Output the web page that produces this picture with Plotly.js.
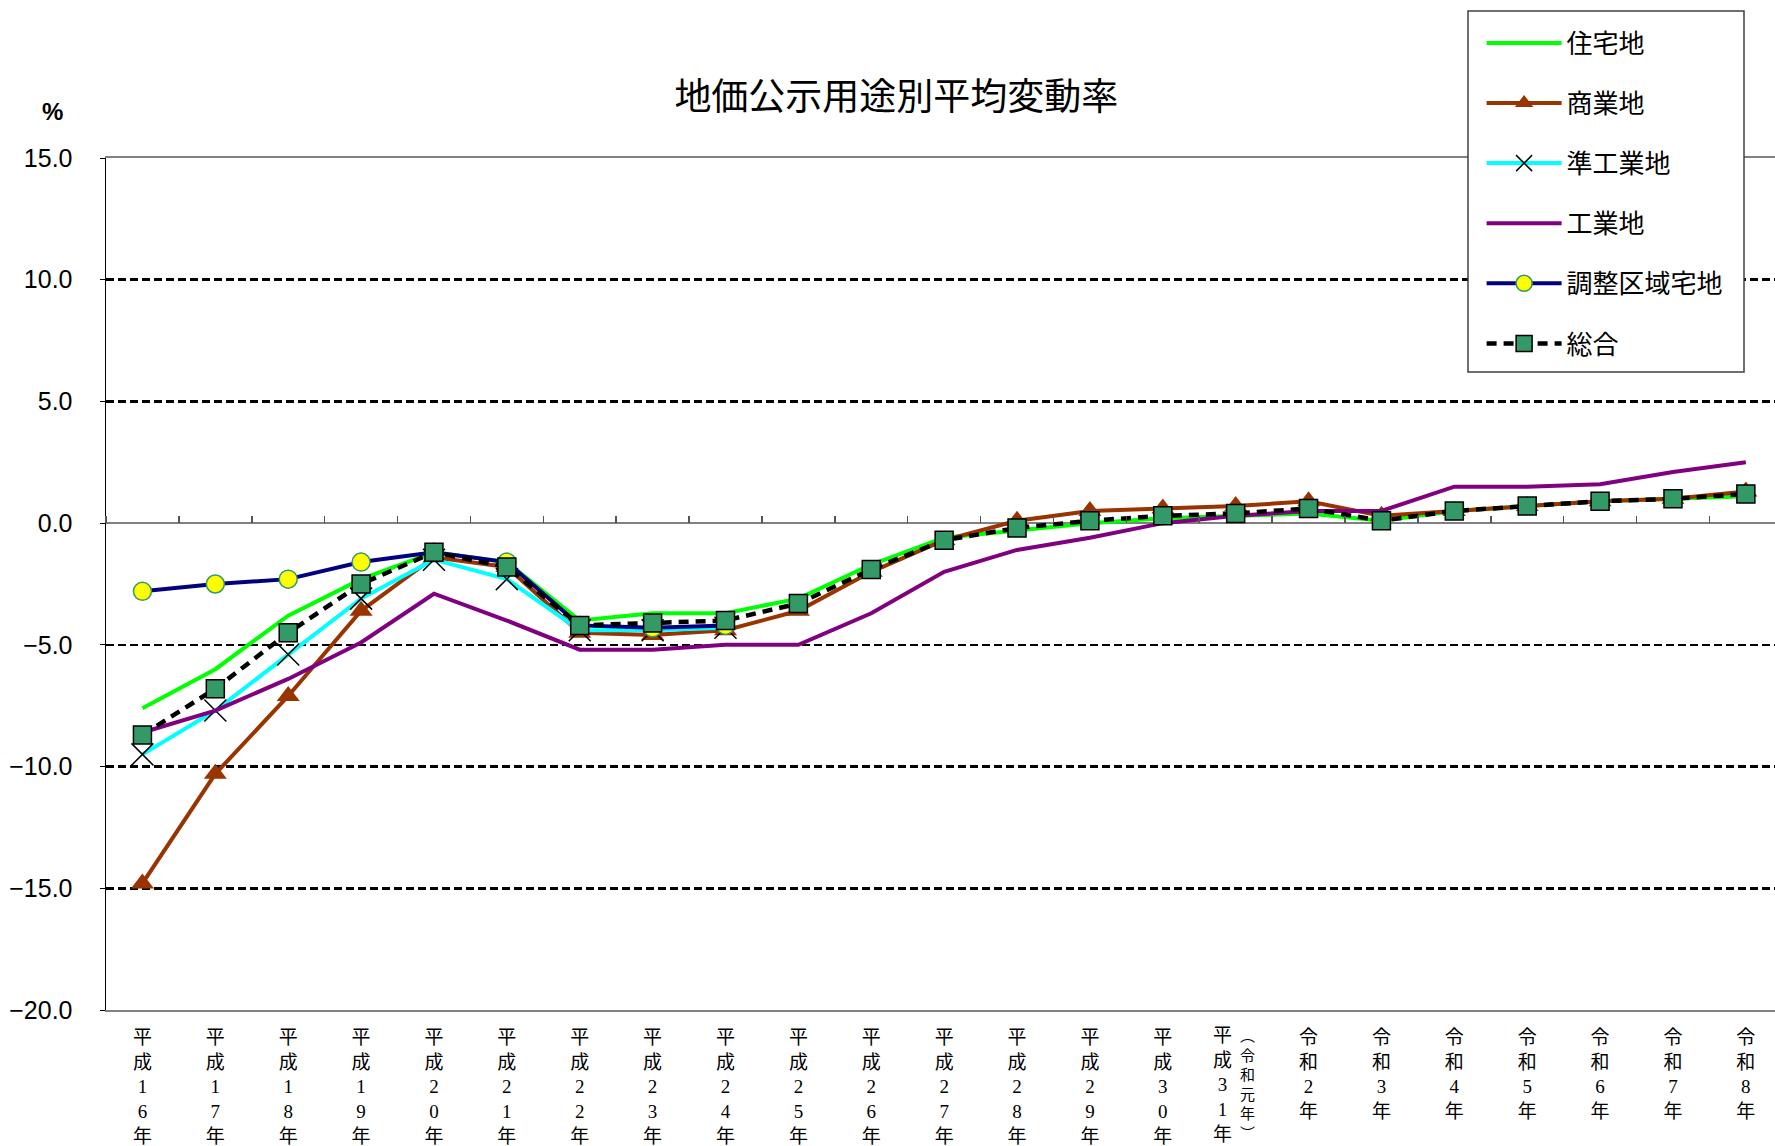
<!DOCTYPE html>
<html>
<head>
<meta charset="utf-8">
<script src="https://cdn.plot.ly/plotly-3.0.1.min.js"></script>
<style>html,body{margin:0;padding:0;background:#fff;}</style>
</head>
<body>
<div id="chart" style="width:1775px;height:1146px;"></div>
<script>
// ---- data ----
const categories = ["H16","H17","H18","H19","H20","H21","H22","H23","H24","H25","H26","H27","H28","H29","H30","H31","R2","R3","R4","R5","R6","R7","R8"];
const tickLabels = [
  "平<br>成<br>1<br>6<br>年","平<br>成<br>1<br>7<br>年","平<br>成<br>1<br>8<br>年","平<br>成<br>1<br>9<br>年",
  "平<br>成<br>2<br>0<br>年","平<br>成<br>2<br>1<br>年","平<br>成<br>2<br>2<br>年","平<br>成<br>2<br>3<br>年",
  "平<br>成<br>2<br>4<br>年","平<br>成<br>2<br>5<br>年","平<br>成<br>2<br>6<br>年","平<br>成<br>2<br>7<br>年",
  "平<br>成<br>2<br>8<br>年","平<br>成<br>2<br>9<br>年","平<br>成<br>3<br>0<br>年",
  "",
  "令<br>和<br>2<br>年","令<br>和<br>3<br>年","令<br>和<br>4<br>年","令<br>和<br>5<br>年",
  "令<br>和<br>6<br>年","令<br>和<br>7<br>年","令<br>和<br>8<br>年"
];
const heisei31Label = "平<br>成<br>3<br>1<br>年";
const reiwaGannenLabel = "︵<br>令<br>和<br>元<br>年<br>︶";
const seriesNames = ["住宅地","商業地","準工業地","工業地","調整区域宅地","総合"];

const residential  = [-7.6,-6.0,-3.8,-2.3,-1.2,-1.6,-4.0,-3.7,-3.7,-3.1,-1.7,-0.6,-0.3,0.0,0.2,0.3,0.4,0.1,0.5,0.7,0.9,1.0,1.1];
const commercial   = [-14.8,-10.3,-7.1,-3.6,-1.4,-1.8,-4.5,-4.6,-4.4,-3.6,-2.0,-0.7,0.1,0.5,0.6,0.7,0.9,0.3,0.5,0.7,0.9,1.0,1.3];
const semiIndustrial = [-9.5,-7.7,-5.4,-3.1,-1.5,-2.3,-4.4,-4.4,-4.3,null,null,null,null,null,null,null,null,null,null,null,null,null,null];
const industrial   = [-8.6,-7.7,-6.4,-4.9,-2.9,-4.0,-5.2,-5.2,-5.0,-5.0,-3.7,-2.0,-1.1,-0.6,0.0,0.3,0.5,0.5,1.5,1.5,1.6,2.1,2.5];
const adjustResidential = [-2.8,-2.5,-2.3,-1.6,-1.2,-1.6,-4.2,-4.3,-4.2,null,null,null,null,null,null,null,null,null,null,null,null,null,null];
const overall      = [-8.7,-6.8,-4.5,-2.5,-1.2,-1.8,-4.2,-4.1,-4.0,-3.3,-1.9,-0.7,-0.2,0.1,0.3,0.4,0.6,0.1,0.5,0.7,0.9,1.0,1.2];
const yTicks = [-20,-15,-10,-5,0,5,10,15];

// ---- traces ----
const traces = [
  {name:seriesNames[0], x:categories, y:residential, mode:"lines", legendgroup:"g0",
   line:{color:"#00FF00", width:4}},
  {name:seriesNames[1], x:categories, y:commercial, mode:"lines+markers", legendgroup:"g1",
   line:{color:"#993300", width:4},
   marker:{symbol:"triangle-up", size:20, color:"#993300", line:{width:0}}},
  {name:seriesNames[2], x:categories, y:semiIndustrial, mode:"lines+markers", legendgroup:"g2",
   line:{color:"#00FFFF", width:4},
   marker:{symbol:"x-thin-open", size:22, color:"#000000", line:{color:"#000000", width:1.5}}},
  {name:seriesNames[3], x:categories, y:industrial, mode:"lines", legendgroup:"g3",
   line:{color:"#800080", width:4}},
  {name:seriesNames[4], x:categories, y:adjustResidential, mode:"lines+markers", legendgroup:"g4",
   line:{color:"#000080", width:4},
   marker:{symbol:"circle", size:18, color:"#FFFF00", line:{color:"#339966", width:1.5}}},
  {name:seriesNames[5], x:categories, y:overall, mode:"lines+markers", legendgroup:"g5",
   line:{color:"#000000", width:4.5, dash:"10px,7px"},
   marker:{symbol:"square", size:18, color:"#339966", line:{color:"#000000", width:1.5}}},
  {x:categories, y:categories.map(()=>null), xaxis:"x2", mode:"lines", showlegend:false, hoverinfo:"skip"}
];

const tickFont = {size:19, family:"Liberation Serif, Noto Sans CJK JP", color:"#000"};

const layout = {
  width:1775, height:1146,
  margin:{l:106, r:0, t:158, b:136, autoexpand:false},
  paper_bgcolor:"#ffffff", plot_bgcolor:"#ffffff",
  font:{family:"Noto Sans CJK JP, sans-serif", color:"#000"},
  title:{text:"地価公示用途別平均変動率", font:{size:37, family:"Noto Sans CJK JP", color:"#000"},
         xref:"container", yref:"container", x:0.505, y:1-97/1146, xanchor:"center", yanchor:"middle"},
  xaxis:{type:"category", range:[-0.5,22.4], tickvals:categories, ticktext:tickLabels,
         ticks:"", showgrid:false, zeroline:false, showline:true, mirror:true,
         linecolor:"#808080", linewidth:2, ticklabelstandoff:9, tickfont:tickFont},
  xaxis2:{type:"category", overlaying:"x", anchor:"free", position:20/35, side:"top",
          range:[-0.5,22.4], ticks:"outside", tickson:"boundaries", ticklen:7, tickwidth:1.5,
          tickcolor:"#555", showticklabels:false, showline:false, showgrid:false, zeroline:false},
  yaxis:{range:[-20,15], tickvals:yTicks, tickformat:".1f", showgrid:true, gridcolor:"#000",
         gridwidth:2.5, griddash:"8px,4px", zeroline:true, zerolinecolor:"#808080", zerolinewidth:1.5,
         showline:true, linecolor:"#000", linewidth:1.5, ticks:"outside", ticklen:5, tickcolor:"#000",
         ticklabelstandoff:22,
         tickfont:{size:25, family:"Liberation Sans, Arial, sans-serif", color:"#000"}},
  legend:{x:(1481.6-106)/1669, y:(1010-19.5)/852, xanchor:"left", yanchor:"top",
          bgcolor:"rgba(0,0,0,0)", borderwidth:0,
          font:{size:26, family:"Noto Sans CJK JP", color:"#000"},
          tracegroupgap:23.3, itemwidth:75, traceorder:"grouped"},
  shapes:[
    {type:"rect", xref:"paper", yref:"paper", layer:"above",
     x0:(1468-106)/1669, x1:(1744-106)/1669, y0:(1010-372)/852, y1:(1010-11)/852,
     fillcolor:"#ffffff", line:{color:"#404040", width:1.5}}
  ],
  annotations:[
    {text:"<b>%</b>", xref:"paper", yref:"paper", x:(52-106)/1669, y:(1010-111)/852,
     xanchor:"center", yanchor:"middle", showarrow:false,
     font:{size:24, family:"Liberation Sans, Arial, sans-serif", color:"#000"}},
    {text:heisei31Label, xref:"x", yref:"paper", x:"H31", xshift:-13, y:-13/852,
     xanchor:"center", yanchor:"top", showarrow:false, font:tickFont},
    {text:reiwaGannenLabel, xref:"x", yref:"paper", x:"H31", xshift:12, y:-12/852,
     xanchor:"center", yanchor:"top", showarrow:false,
     font:{size:15, family:"Noto Sans CJK JP", color:"#000"}}
  ],
  showlegend:true
};

Plotly.newPlot("chart", traces, layout, {displayModeBar:false, staticPlot:true});
</script>
</body>
</html>
